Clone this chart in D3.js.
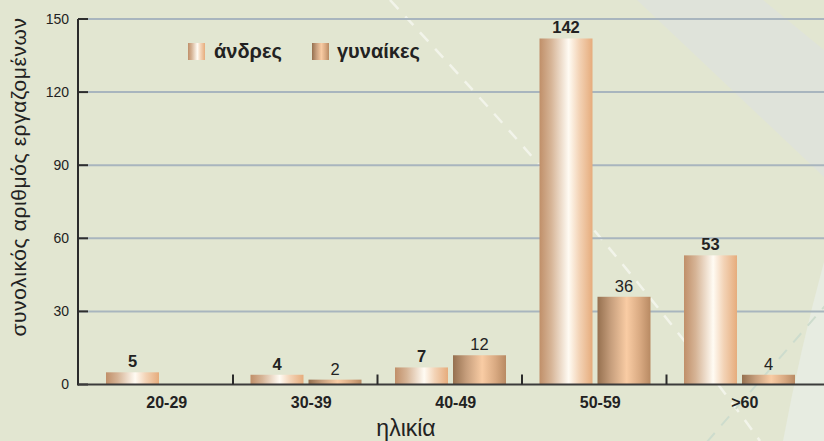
<!DOCTYPE html>
<html><head><meta charset="utf-8">
<script src="https://cdn.jsdelivr.net/npm/d3@7"></script>
<style>html,body{margin:0;padding:0;background:#e2e6d1;}svg{display:block;font-family:"Liberation Sans",Arial,Helvetica,sans-serif;}</style>
</head><body>
<svg id="c" width="824" height="441"></svg>
<script>
const categories = ["20-29", "30-39", "40-49", "50-59", ">60"];
const men = [5, 4, 7, 142, 53];
const women = [null, 2, 12, 36, 4];
const seriesNames = ["άνδρες", "γυναίκες"];
const yTicks = [0, 30, 60, 90, 120, 150];
const xTitle = "ηλικία";
const yTitle = "συνολικός αριθμός εργαζομένων";

const svg = d3.select("#c");
const W = 824, H = 441;

// background decoration
svg.append("rect").attr("width", W).attr("height", H).attr("fill", "#e2e6d1");
svg.append("path").attr("d", "M637,0 L824,177 L824,50 L763,0 Z").attr("fill", "#dfe3da");
svg.append("path").attr("d", "M824,262 Q800,350 783,441 L824,441 Z").attr("fill", "#e7ece1");
svg.append("path").attr("d", "M390,0 Q520,140 560,190 Q680,330 760,441")
  .attr("fill", "none").attr("stroke", "#f2f4ea").attr("stroke-width", 2.5).attr("stroke-dasharray", "12,10");
svg.append("path").attr("d", "M830,300 L700,450")
  .attr("fill", "none").attr("stroke", "#cddccd").attr("stroke-width", 2).attr("stroke-dasharray", "12,10");

const defs = svg.append("defs");
function grad(id, stops) {
  const g = defs.append("linearGradient").attr("id", id).attr("x1", "0").attr("x2", "1").attr("y1", "0").attr("y2", "0");
  stops.forEach(s => g.append("stop").attr("offset", s[0]).attr("stop-color", s[1]));
}
grad("gm", [[0, "#c08f69"], [0.22, "#d6b496"], [0.55, "#fffbf3"], [0.75, "#f3d3b6"], [1, "#e6ac7c"]]);
grad("gw", [[0, "#95704f"], [0.25, "#c69e7c"], [0.55, "#f9cca4"], [0.8, "#d9aa82"], [1, "#b88a63"]]);

const x0 = 78, xStart = 88.5, xEnd = 811;
const x = d3.scaleBand().domain(categories).range([xStart, xEnd]).paddingInner(0).paddingOuter(0);
const xs = d3.scaleBand().domain(["m", "w"]).range([17.5, 128.5]).paddingInner(5 / 58);
const y = d3.scaleLinear().domain([0, 150]).range([384.5, 19]);

// gridlines
svg.append("g").selectAll("line").data(yTicks.filter(d => d > 0)).join("line")
  .attr("x1", x0).attr("x2", W).attr("y1", d => y(d)).attr("y2", d => y(d))
  .attr("stroke", "#a8b5be").attr("stroke-width", 2);
// y ticks
svg.append("g").selectAll("line").data(yTicks).join("line")
  .attr("x1", x0).attr("x2", x0 + 10).attr("y1", d => y(d)).attr("y2", d => y(d))
  .attr("stroke", "#2e2e2e").attr("stroke-width", 2);
svg.append("g").selectAll("text").data(yTicks).join("text")
  .attr("x", 69).attr("y", d => y(d)).attr("dy", "0.35em").attr("text-anchor", "end")
  .attr("font-size", 14).attr("fill", "#222").text(d => d);

// bars
const g = svg.append("g");
categories.forEach((c, i) => {
  const pairs = [["m", men[i], "url(#gm)", 700], ["w", women[i], "url(#gw)", 400]];
  pairs.forEach(([k, v, fill, fw]) => {
    if (v == null) return;
    const bx = x(c) + xs(k);
    g.append("rect").attr("x", bx).attr("y", y(v)).attr("width", xs.bandwidth())
      .attr("height", y(0) - y(v)).attr("fill", fill);
    g.append("text").attr("x", bx + xs.bandwidth() / 2).attr("y", y(v) - 5)
      .attr("text-anchor", "middle").attr("font-size", 16.5).attr("font-weight", fw)
      .attr("fill", "#222").text(v);
  });
});

// axes lines
svg.append("line").attr("x1", x0).attr("x2", x0).attr("y1", y(150)).attr("y2", y(0) + 1)
  .attr("stroke", "#2b2b2b").attr("stroke-width", 2);
svg.append("line").attr("x1", x0).attr("x2", W).attr("y1", y(0)).attr("y2", y(0))
  .attr("stroke", "#3b3b3b").attr("stroke-width", 2);
// group separators
svg.append("g").selectAll("line").data(categories.slice(1)).join("line")
  .attr("x1", d => x(d)).attr("x2", d => x(d)).attr("y1", y(0) - 10).attr("y2", y(0))
  .attr("stroke", "#2b2b2b").attr("stroke-width", 2);
// category labels
svg.append("g").selectAll("text").data(categories).join("text")
  .attr("x", d => x(d) + x.bandwidth() / 2 + 6).attr("y", 408).attr("text-anchor", "middle")
  .attr("font-size", 16).attr("font-weight", 700).attr("fill", "#222").text(d => d);

// axis titles
svg.append("text").attr("x", 406).attr("y", 436).attr("text-anchor", "middle")
  .attr("font-size", 23).attr("fill", "#222").text(xTitle);
svg.append("text").attr("transform", "translate(26,177) rotate(-90)").attr("text-anchor", "middle")
  .attr("font-size", 21).attr("letter-spacing", 0.6).attr("fill", "#222").text(yTitle);

// legend
const leg = [[188, 214, "url(#gm)", seriesNames[0]], [312, 337, "url(#gw)", seriesNames[1]]];
leg.forEach(([sx, tx, f, t]) => {
  svg.append("rect").attr("x", sx).attr("y", 43).attr("width", 17).attr("height", 17).attr("fill", f);
  svg.append("text").attr("x", tx).attr("y", 58).attr("font-size", 20).attr("font-weight", 700)
    .attr("fill", "#222").text(t);
});
</script>
</body></html>
